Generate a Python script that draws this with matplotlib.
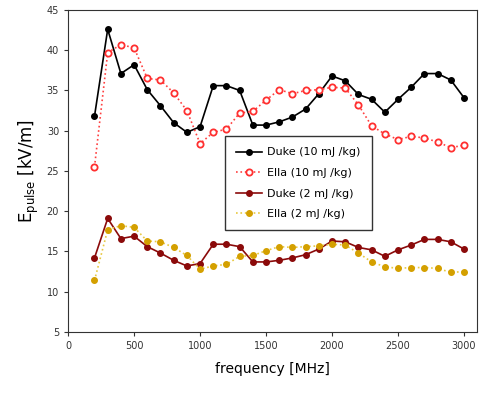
import matplotlib
matplotlib.use("Agg")
import matplotlib.pyplot as plt

freq = [200, 300, 400, 500, 600, 700, 800, 900, 1000, 1100, 1200, 1300, 1400, 1500,
        1600, 1700, 1800, 1900, 2000, 2100, 2200, 2300, 2400, 2500, 2600, 2700,
        2800, 2900, 3000]

duke_10 = [31.8, 42.6, 37.1, 38.2, 35.1, 33.1, 31.0, 29.8, 30.5, 35.6, 35.6, 35.0,
           30.7, 30.7, 31.1, 31.7, 32.7, 34.6, 36.8, 36.2, 34.5, 33.9, 32.3, 33.9,
           35.4, 37.1, 37.1, 36.3, 34.1]
ella_10 = [25.5, 39.7, 40.7, 40.3, 36.5, 36.3, 34.7, 32.5, 28.4, 29.8, 30.2, 32.2,
           32.4, 33.8, 35.1, 34.6, 35.0, 35.1, 35.4, 35.3, 33.2, 30.6, 29.6, 28.9,
           29.3, 29.1, 28.6, 27.9, 28.2]
duke_2 = [14.2, 19.1, 16.6, 16.9, 15.6, 14.8, 13.9, 13.2, 13.5, 15.9, 15.9, 15.6,
          13.7, 13.7, 13.9, 14.2, 14.6, 15.3, 16.3, 16.2, 15.5, 15.2, 14.4, 15.2,
          15.8, 16.5, 16.5, 16.2, 15.3]
ella_2 = [11.4, 17.7, 18.2, 18.0, 16.3, 16.2, 15.5, 14.5, 12.8, 13.2, 13.4, 14.4,
          14.5, 15.1, 15.6, 15.5, 15.6, 15.7, 15.9, 15.8, 14.8, 13.7, 13.1, 12.9,
          13.0, 13.0, 12.9, 12.4, 12.5]

fig = plt.figure(figsize=(4.83, 3.99), dpi=100)
ax = fig.add_axes([0.141, 0.168, 0.847, 0.807])

ax.plot(freq, duke_10, color='black', lw=1.2, marker='o', ms=4,
        label='Duke (10 mJ /kg)')
ax.plot(freq, ella_10, color='#ff4040', lw=1.2, ls=':', marker='o', ms=4.5,
        mfc='white', mec='#ff3030', mew=1.3, label='Ella (10 mJ /kg)')
ax.plot(freq, duke_2, color='#8b0a0a', lw=1.2, marker='o', ms=4,
        label='Duke (2 mJ /kg)')
ax.plot(freq, ella_2, color='#e8c840', lw=1.2, ls=':', marker='o', ms=4,
        mfc='#d4a000', mec='#d4a000', label='Ella (2 mJ /kg)')

ax.set_xlim(0, 3100)
ax.set_ylim(5, 45)
ax.set_xticks([0, 500, 1000, 1500, 2000, 2500, 3000])
ax.set_yticks(range(5, 46, 5))
ax.tick_params(labelsize=7, length=3, colors='#333333')
for s in ax.spines.values():
    s.set_color('#333333')

ax.set_xlabel('frequency [MHz]', fontsize=10, labelpad=8)
ax.set_ylabel(r'E$_{\rm pulse}$ [kV/m]', fontsize=12, labelpad=4)

leg = ax.legend(loc='upper left', bbox_to_anchor=(0.37, 0.625), fontsize=8,
                frameon=True, fancybox=False, edgecolor='black',
                handlelength=2.3, borderpad=1.0, labelspacing=0.95,
                handletextpad=0.5)
leg.get_frame().set_linewidth(1.0)

fig.savefig('out.png', dpi=100)
